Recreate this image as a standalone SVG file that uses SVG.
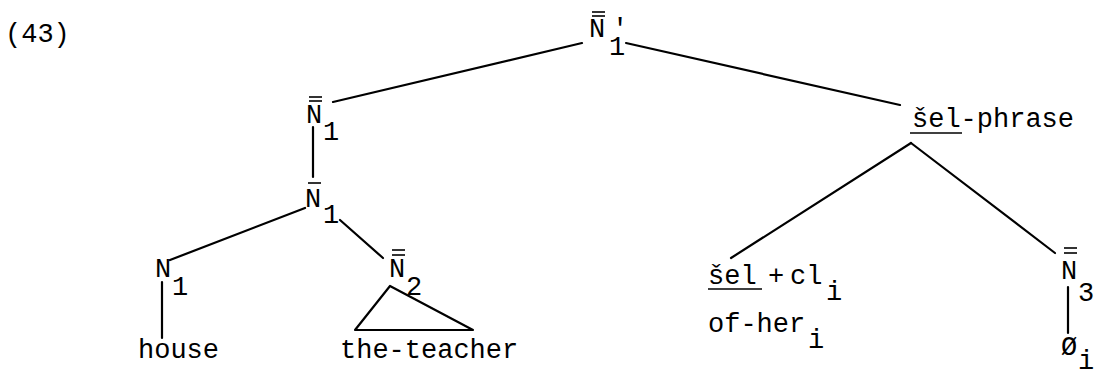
<svg xmlns="http://www.w3.org/2000/svg" width="1097" height="377" viewBox="0 0 1097 377">
<style>
text{font-family:"Liberation Mono","DejaVu Sans Mono",monospace;font-size:27px;fill:#000}
.e{stroke:#000;stroke-width:2.2;fill:none;stroke-linecap:round;stroke-linejoin:round}
.bar{stroke:#000;stroke-width:1.6}
</style>
<rect width="1097" height="377" fill="#fff"/>
<text id="label43" x="5" y="42">(43)</text>
<g id="connectors">
<line class="e" x1="582" y1="43" x2="333" y2="102"/>
<line class="e" x1="626" y1="43" x2="900" y2="105"/>
<line class="e" x1="313" y1="127" x2="313" y2="177"/>
<line class="e" x1="305" y1="208" x2="170" y2="260"/>
<line class="e" x1="340" y1="220" x2="383" y2="258"/>
<line class="e" x1="162" y1="282" x2="162" y2="338"/>
<line class="e" x1="911" y1="143" x2="731" y2="258"/>
<line class="e" x1="911" y1="143" x2="1055" y2="253"/>
<line class="e" x1="1068" y1="287" x2="1068" y2="333"/>
</g>
<g id="root">
<text x="589" y="37">N</text>
<line class="bar" x1="592" y1="12" x2="605" y2="12"/>
<line class="bar" x1="592" y1="16" x2="605" y2="16"/>
<text><tspan x="612" y="37">'</tspan><tspan x="609" y="55">1</tspan></text>
</g>
<g id="n1bb">
<text x="306" y="123">N</text>
<line class="bar" x1="309" y1="97" x2="322" y2="97"/>
<line class="bar" x1="309" y1="101" x2="322" y2="101"/>
<text x="323" y="140">1</text>
</g>
<g id="n1b">
<text x="305" y="207">N</text>
<line class="bar" x1="308" y1="183" x2="321" y2="183"/>
<text x="323" y="223">1</text>
</g>
<g id="n1">
<text x="155" y="277">N</text>
<text x="172" y="295">1</text>
</g>
<g id="house">
<text x="138" y="358">house</text>
</g>
<g id="n2bb">
<text x="389" y="277">N</text>
<line class="bar" x1="392" y1="250" x2="405" y2="250"/>
<line class="bar" x1="392" y1="255" x2="405" y2="255"/>
<text x="406" y="295">2</text>
<polygon class="e" points="390,286 355,330 473,330"/>
</g>
<g id="theteacher">
<text x="340" y="358">the-teacher</text>
</g>
<g id="selphrase">
<text x="912" y="127">šel-phrase</text>
<line class="bar" x1="910" y1="133" x2="962" y2="133"/>
</g>
<g id="selcl">
<text y="284"><tspan x="708">šel</tspan><tspan x="768">+</tspan><tspan x="790">cl</tspan></text>
<text x="826" y="300">i</text>
<line class="bar" x1="708" y1="289" x2="762" y2="289"/>
<text x="708" y="332">of-her</text>
<text x="808" y="348">i</text>
</g>
<g id="n3bb">
<text x="1061" y="279">N</text>
<line class="bar" x1="1064" y1="248" x2="1077" y2="248"/>
<line class="bar" x1="1064" y1="253" x2="1077" y2="253"/>
<text x="1078" y="301">3</text>
</g>
<g id="empty">
<text x="1061" y="355">Ø</text>
<text x="1078" y="369">i</text>
</g>
</svg>
